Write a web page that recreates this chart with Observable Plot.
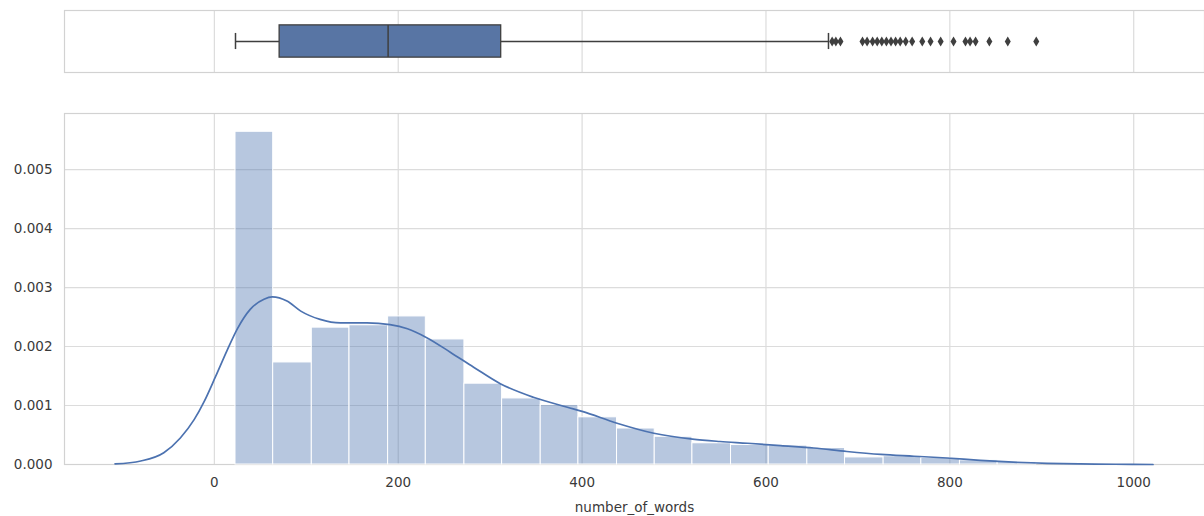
<!DOCTYPE html>
<html>
<head>
<meta charset="utf-8">
<script src="https://cdn.jsdelivr.net/npm/d3@7"></script>
<script src="https://cdn.jsdelivr.net/npm/@observablehq/plot@0.6"></script>
<style>
  body { margin: 0; background: #fff; }
  #chart svg { display: block; }
</style>
</head>
<body>
<div id="chart"></div>
<script>
// ---- data ----
const xTicks = [0, 200, 400, 600, 800, 1000];
const yTicks = [0, 0.001, 0.002, 0.003, 0.004, 0.005];

// box plot summary of number_of_words
const whiskerLow = 23;
const q1 = 71;
const median = 189;
const q3 = 312;
const whiskerHigh = 668;
const outliers = [672, 676, 681, 705, 710, 716, 721, 726, 731, 736, 741, 746, 752, 759,
                  770, 779, 790, 804, 817, 822, 828, 843, 863, 894];

// histogram (density)
const binEdges = [23, 64, 106, 147, 189, 230, 272, 313, 355, 396, 438, 479, 520, 562,
                  603, 645, 686, 728, 769, 811, 852, 894];
const binDensity = [0.00564, 0.00173, 0.00232, 0.00236, 0.00251, 0.00212, 0.00137,
                    0.00112, 0.00101, 0.00080, 0.00061, 0.00047, 0.00036, 0.00033,
                    0.00032, 0.00028, 0.00012, 0.00014, 0.00011, 0.00007, 0.00004];

// KDE curve points
const kdeX = [-108, -80, -55, -37, -22, -11, 1, 14, 25, 39, 54, 63, 79, 94, 115, 137, 166,
              191, 210, 231, 257, 282, 311, 347, 384, 400, 438, 478, 520, 550, 580, 616,
              652, 688, 725, 761, 797, 833, 869, 906, 942, 980, 1021];
const kdeY = [0.00001, 0.00006, 0.00020, 0.00045, 0.00076, 0.00107, 0.00148, 0.00194,
              0.00230, 0.00263, 0.00280, 0.00284, 0.00277, 0.00260, 0.00246, 0.00240,
              0.00240, 0.00237, 0.00230, 0.00215, 0.00190, 0.00165, 0.00137, 0.00114,
              0.00097, 0.00090, 0.00070, 0.00053, 0.00043, 0.00039, 0.00036, 0.00032,
              0.00028, 0.00022, 0.00017, 0.00014, 0.00011, 0.00007, 0.00004, 0.00002,
              0.00001, 0.000004, 0];

// ---- derived tables ----
const bins = binDensity.map((d, i) => ({x1: binEdges[i], x2: binEdges[i + 1], y: d}));
const kde = kdeX.map((x, i) => ({x, y: kdeY[i]}));
const whiskers = [{x1: whiskerLow, x2: q1}, {x1: q3, x2: whiskerHigh}];
const box = [{q1, q3}];

const W = 1204;
const xDomain = [-163, 1077];
const gridColor = "#dcdcdc";
const frameColor = "#d2d2d2";
const dark = "#3f3f3f";
const style = {fontFamily: "DejaVu Sans", fontSize: "13.5px", color: "#3a3a3a", background: "#fff"};

const thinDiamond = {
  draw(ctx, size) {
    const r = Math.sqrt(size / Math.PI);
    ctx.moveTo(0, -r);
    ctx.lineTo(r * 0.6, 0);
    ctx.lineTo(0, r);
    ctx.lineTo(-r * 0.6, 0);
    ctx.closePath();
  }
};

const topPlot = Plot.plot({
  width: W, height: 82,
  marginTop: 10, marginBottom: 10, marginLeft: 64, marginRight: 0,
  style,
  x: {domain: xDomain, axis: null},
  y: {domain: [-0.5, 0.5], axis: null},
  marks: [
    Plot.ruleX(xTicks, {x: d => d, stroke: gridColor, strokeWidth: 1.2}),
    Plot.frame({stroke: frameColor, strokeWidth: 1.2}),
    Plot.ruleY(whiskers, {x1: "x1", x2: "x2", y: () => 0, stroke: dark, strokeWidth: 1.5}),
    Plot.ruleX([whiskerLow, whiskerHigh], {x: d => d, y1: () => -0.13, y2: () => 0.13, stroke: dark, strokeWidth: 1.5}),
    Plot.rect(box, {x1: "q1", x2: "q3", y1: () => -0.26, y2: () => 0.26, fill: "#5875a4", stroke: dark, strokeWidth: 1.3}),
    Plot.ruleX([median], {x: d => d, y1: () => -0.26, y2: () => 0.26, stroke: dark, strokeWidth: 1.5}),
    Plot.dot(outliers, {x: d => d, y: () => 0, r: 5, symbol: thinDiamond, fill: dark, stroke: "none"})
  ]
});

const mainPlot = Plot.plot({
  width: W, height: 434,
  marginTop: 31, marginBottom: 52, marginLeft: 64, marginRight: 0,
  style,
  x: {domain: xDomain, ticks: xTicks, tickSize: 0, tickPadding: 13, tickFormat: d => String(d),
      label: "number_of_words", labelAnchor: "center", labelArrow: "none", labelOffset: 47},
  y: {domain: [0, 0.00595], ticks: yTicks, tickSize: 0, tickPadding: 12,
      tickFormat: d3.format(".3f"), label: null},
  marks: [
    Plot.ruleX(xTicks, {x: d => d, stroke: gridColor, strokeWidth: 1.2}),
    Plot.ruleY(yTicks, {y: d => d, stroke: gridColor, strokeWidth: 1.2}),
    Plot.frame({stroke: frameColor, strokeWidth: 1.2}),
    Plot.rectY(bins, {x1: "x1", x2: "x2", y: "y", fill: "#4c72b0", fillOpacity: 0.4, stroke: "#fff", strokeWidth: 1}),
    Plot.line(kde, {x: "x", y: "y", stroke: "#4c72b0", strokeWidth: 1.7, curve: "monotone-x"})
  ]
});

const chart = document.getElementById("chart");
chart.append(topPlot, mainPlot);
</script>
</body>
</html>
